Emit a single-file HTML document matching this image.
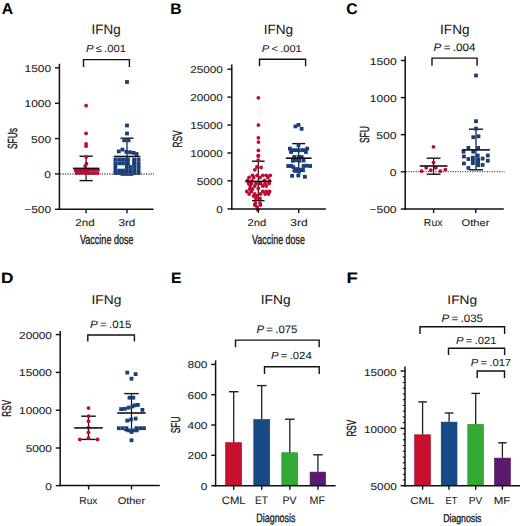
<!DOCTYPE html>
<html><head><meta charset="utf-8"><style>
html,body{margin:0;padding:0;background:#fff;}
svg{display:block;font-family:"Liberation Sans",sans-serif;text-rendering:geometricPrecision;}
</style></head><body>
<svg width="520" height="526" viewBox="0 0 520 526">
<rect width="520" height="526" fill="#fff"/>
<rect x="225.6" y="442.7" width="16" height="42.3" fill="#c8102e" stroke="#9e0a22" stroke-width="0.6"/>
<rect x="253.8" y="419.5" width="15.9" height="65.5" fill="#1a4a86" stroke="#123a6c" stroke-width="0.6"/>
<rect x="281.8" y="452.7" width="15.9" height="32.3" fill="#33aa33" stroke="#268a26" stroke-width="0.6"/>
<rect x="310.1" y="472.1" width="15.5" height="12.9" fill="#5c1a6e" stroke="#46104f" stroke-width="0.6"/>
<rect x="414.6" y="434.8" width="15.9" height="50.2" fill="#c8102e" stroke="#9e0a22" stroke-width="0.6"/>
<rect x="441.2" y="422.1" width="15.8" height="62.9" fill="#1a4a86" stroke="#123a6c" stroke-width="0.6"/>
<rect x="467.8" y="424.4" width="15.7" height="60.6" fill="#33aa33" stroke="#268a26" stroke-width="0.6"/>
<rect x="494.5" y="458.1" width="15.9" height="26.9" fill="#5c1a6e" stroke="#46104f" stroke-width="0.6"/>
<line x1="86.1" y1="156.2" x2="86.1" y2="180.6" stroke="#111" stroke-width="1.2"/>
<line x1="79.5" y1="156.2" x2="92.7" y2="156.2" stroke="#111" stroke-width="1.4"/>
<line x1="79.5" y1="180.6" x2="92.7" y2="180.6" stroke="#111" stroke-width="1.4"/>
<line x1="127" y1="138.2" x2="127" y2="175" stroke="#111" stroke-width="1.2"/>
<line x1="120.5" y1="138.2" x2="133.5" y2="138.2" stroke="#111" stroke-width="1.4"/>
<line x1="120.5" y1="175" x2="133.5" y2="175" stroke="#111" stroke-width="1.4"/>
<line x1="258.3" y1="161.2" x2="258.3" y2="200.6" stroke="#111" stroke-width="1.2"/>
<line x1="252" y1="161.2" x2="264.6" y2="161.2" stroke="#111" stroke-width="1.4"/>
<line x1="252" y1="200.6" x2="264.6" y2="200.6" stroke="#111" stroke-width="1.4"/>
<line x1="298.7" y1="143.6" x2="298.7" y2="171" stroke="#111" stroke-width="1.2"/>
<line x1="292.2" y1="143.6" x2="305.2" y2="143.6" stroke="#111" stroke-width="1.4"/>
<line x1="292.2" y1="171" x2="305.2" y2="171" stroke="#111" stroke-width="1.4"/>
<line x1="433.6" y1="158.2" x2="433.6" y2="174.2" stroke="#111" stroke-width="1.2"/>
<line x1="426.7" y1="158.2" x2="440.5" y2="158.2" stroke="#111" stroke-width="1.4"/>
<line x1="426.7" y1="174.2" x2="440.5" y2="174.2" stroke="#111" stroke-width="1.4"/>
<line x1="476" y1="129.2" x2="476" y2="169.8" stroke="#111" stroke-width="1.2"/>
<line x1="469" y1="129.2" x2="483" y2="129.2" stroke="#111" stroke-width="1.4"/>
<line x1="469" y1="169.8" x2="483" y2="169.8" stroke="#111" stroke-width="1.4"/>
<line x1="88.5" y1="416.2" x2="88.5" y2="439.4" stroke="#111" stroke-width="1.2"/>
<line x1="81.2" y1="416.2" x2="95.8" y2="416.2" stroke="#111" stroke-width="1.4"/>
<line x1="81.2" y1="439.4" x2="95.8" y2="439.4" stroke="#111" stroke-width="1.4"/>
<line x1="131.5" y1="393.6" x2="131.5" y2="430.6" stroke="#111" stroke-width="1.2"/>
<line x1="124.3" y1="393.6" x2="138.7" y2="393.6" stroke="#111" stroke-width="1.4"/>
<line x1="124.3" y1="430.6" x2="138.7" y2="430.6" stroke="#111" stroke-width="1.4"/>
<circle cx="86.1" cy="105.7" r="1.9" fill="#c00a34"/>
<circle cx="86.1" cy="133.4" r="1.9" fill="#c00a34"/>
<circle cx="86.1" cy="143.8" r="1.9" fill="#c00a34"/>
<circle cx="86.1" cy="146.2" r="1.9" fill="#c00a34"/>
<circle cx="86.2" cy="157" r="1.9" fill="#c00a34"/>
<circle cx="86.5" cy="163.7" r="1.9" fill="#c00a34"/>
<circle cx="85.1" cy="166.1" r="1.9" fill="#c00a34"/>
<circle cx="75.6" cy="170.5" r="1.9" fill="#c00a34"/>
<circle cx="76.6" cy="173" r="1.9" fill="#c00a34"/>
<circle cx="78.4" cy="170.5" r="1.9" fill="#c00a34"/>
<circle cx="79.4" cy="173" r="1.9" fill="#c00a34"/>
<circle cx="81.2" cy="170.5" r="1.9" fill="#c00a34"/>
<circle cx="82.2" cy="173" r="1.9" fill="#c00a34"/>
<circle cx="84" cy="170.5" r="1.9" fill="#c00a34"/>
<circle cx="85" cy="173" r="1.9" fill="#c00a34"/>
<circle cx="86.8" cy="170.5" r="1.9" fill="#c00a34"/>
<circle cx="87.8" cy="173" r="1.9" fill="#c00a34"/>
<circle cx="89.6" cy="169.9" r="1.9" fill="#c00a34"/>
<circle cx="89" cy="173.2" r="1.9" fill="#c00a34"/>
<circle cx="92.4" cy="169.9" r="1.9" fill="#c00a34"/>
<circle cx="91.8" cy="173.2" r="1.9" fill="#c00a34"/>
<circle cx="95.2" cy="169.9" r="1.9" fill="#c00a34"/>
<circle cx="94.6" cy="173.2" r="1.9" fill="#c00a34"/>
<circle cx="98" cy="169.9" r="1.9" fill="#c00a34"/>
<circle cx="97.4" cy="173.2" r="1.9" fill="#c00a34"/>
<rect x="125.1" y="80.1" width="3.8" height="3.8" fill="#173f78"/>
<rect x="125.1" y="123.6" width="3.8" height="3.8" fill="#173f78"/>
<rect x="125.1" y="131.6" width="3.8" height="3.8" fill="#173f78"/>
<rect x="122.3" y="138.4" width="3.8" height="3.8" fill="#173f78"/>
<rect x="126.6" y="138.4" width="3.8" height="3.8" fill="#173f78"/>
<rect x="116.9" y="149.5" width="3.8" height="3.8" fill="#173f78"/>
<rect x="120.5" y="147.7" width="3.8" height="3.8" fill="#173f78"/>
<rect x="124.4" y="149.9" width="3.8" height="3.8" fill="#173f78"/>
<rect x="128.1" y="150.4" width="3.8" height="3.8" fill="#173f78"/>
<rect x="131.7" y="150.9" width="3.8" height="3.8" fill="#173f78"/>
<rect x="134.7" y="152.1" width="3.8" height="3.8" fill="#173f78"/>
<rect x="113.5" y="157.8" width="3.8" height="3.8" fill="#173f78"/>
<rect x="117.3" y="157.8" width="3.8" height="3.8" fill="#173f78"/>
<rect x="121.1" y="157.8" width="3.8" height="3.8" fill="#173f78"/>
<rect x="124.9" y="157.8" width="3.8" height="3.8" fill="#173f78"/>
<rect x="132.5" y="157.8" width="3.8" height="3.8" fill="#173f78"/>
<rect x="136.7" y="157.8" width="3.8" height="3.8" fill="#173f78"/>
<rect x="113.5" y="161.5" width="3.8" height="3.8" fill="#173f78"/>
<rect x="117.3" y="161.5" width="3.8" height="3.8" fill="#173f78"/>
<rect x="121.1" y="161.5" width="3.8" height="3.8" fill="#173f78"/>
<rect x="124.9" y="161.5" width="3.8" height="3.8" fill="#173f78"/>
<rect x="132.5" y="161.5" width="3.8" height="3.8" fill="#173f78"/>
<rect x="136.7" y="161.5" width="3.8" height="3.8" fill="#173f78"/>
<rect x="113.5" y="165.1" width="3.8" height="3.8" fill="#173f78"/>
<rect x="124.9" y="165.1" width="3.8" height="3.8" fill="#173f78"/>
<rect x="128.7" y="165.1" width="3.8" height="3.8" fill="#173f78"/>
<rect x="132.5" y="165.1" width="3.8" height="3.8" fill="#173f78"/>
<rect x="136.7" y="165.1" width="3.8" height="3.8" fill="#173f78"/>
<rect x="113.5" y="168.7" width="3.8" height="3.8" fill="#173f78"/>
<rect x="117.3" y="168.7" width="3.8" height="3.8" fill="#173f78"/>
<rect x="121.1" y="168.7" width="3.8" height="3.8" fill="#173f78"/>
<rect x="124.9" y="168.7" width="3.8" height="3.8" fill="#173f78"/>
<rect x="128.7" y="168.7" width="3.8" height="3.8" fill="#173f78"/>
<rect x="132.5" y="168.7" width="3.8" height="3.8" fill="#173f78"/>
<rect x="136.7" y="168.7" width="3.8" height="3.8" fill="#173f78"/>
<rect x="113.5" y="171.2" width="3.8" height="3.8" fill="#173f78"/>
<rect x="117.3" y="171.2" width="3.8" height="3.8" fill="#173f78"/>
<rect x="121.1" y="171.2" width="3.8" height="3.8" fill="#173f78"/>
<rect x="124.9" y="171.2" width="3.8" height="3.8" fill="#173f78"/>
<rect x="128.7" y="171.2" width="3.8" height="3.8" fill="#173f78"/>
<rect x="132.5" y="171.2" width="3.8" height="3.8" fill="#173f78"/>
<rect x="136.7" y="171.2" width="3.8" height="3.8" fill="#173f78"/>
<rect x="132.3" y="158.1" width="3.8" height="3.8" fill="#173f78"/>
<rect x="126.1" y="157.8" width="3.8" height="3.8" fill="#173f78"/>
<rect x="126.1" y="161.5" width="3.8" height="3.8" fill="#173f78"/>
<rect x="132.3" y="161.5" width="3.8" height="3.8" fill="#173f78"/>
<circle cx="258.4" cy="97.8" r="1.9" fill="#c00a34"/>
<circle cx="258.4" cy="125.1" r="1.9" fill="#c00a34"/>
<circle cx="258.4" cy="137.8" r="1.9" fill="#c00a34"/>
<circle cx="258.4" cy="142.1" r="1.9" fill="#c00a34"/>
<circle cx="258.4" cy="150.4" r="1.9" fill="#c00a34"/>
<circle cx="258.4" cy="155.6" r="1.9" fill="#c00a34"/>
<circle cx="258.2" cy="156.1" r="1.9" fill="#c00a34"/>
<circle cx="258.2" cy="160.1" r="1.9" fill="#c00a34"/>
<circle cx="256.9" cy="167" r="1.9" fill="#c00a34"/>
<circle cx="261.1" cy="167.5" r="1.9" fill="#c00a34"/>
<circle cx="254.8" cy="169.8" r="1.9" fill="#c00a34"/>
<circle cx="252.5" cy="175.3" r="1.9" fill="#c00a34"/>
<circle cx="257.1" cy="175.3" r="1.9" fill="#c00a34"/>
<circle cx="262.8" cy="175.3" r="1.9" fill="#c00a34"/>
<circle cx="266.2" cy="175.3" r="1.9" fill="#c00a34"/>
<circle cx="270.2" cy="175.3" r="1.9" fill="#c00a34"/>
<circle cx="249.1" cy="177.5" r="1.9" fill="#c00a34"/>
<circle cx="253.7" cy="177.5" r="1.9" fill="#c00a34"/>
<circle cx="260" cy="177.5" r="1.9" fill="#c00a34"/>
<circle cx="267.9" cy="177.5" r="1.9" fill="#c00a34"/>
<circle cx="247.5" cy="180.5" r="1.9" fill="#c00a34"/>
<circle cx="252" cy="181" r="1.9" fill="#c00a34"/>
<circle cx="264.5" cy="180.5" r="1.9" fill="#c00a34"/>
<circle cx="269.5" cy="181" r="1.9" fill="#c00a34"/>
<circle cx="248.6" cy="183.5" r="1.9" fill="#c00a34"/>
<circle cx="251.4" cy="183.5" r="1.9" fill="#c00a34"/>
<circle cx="256" cy="183.5" r="1.9" fill="#c00a34"/>
<circle cx="260.5" cy="183.5" r="1.9" fill="#c00a34"/>
<circle cx="265.1" cy="183.5" r="1.9" fill="#c00a34"/>
<circle cx="269.1" cy="183.5" r="1.9" fill="#c00a34"/>
<circle cx="250.3" cy="186" r="1.9" fill="#c00a34"/>
<circle cx="254.8" cy="186" r="1.9" fill="#c00a34"/>
<circle cx="262.8" cy="186" r="1.9" fill="#c00a34"/>
<circle cx="266.2" cy="186" r="1.9" fill="#c00a34"/>
<circle cx="249.7" cy="189" r="1.9" fill="#c00a34"/>
<circle cx="252.5" cy="189" r="1.9" fill="#c00a34"/>
<circle cx="258.4" cy="188.5" r="1.9" fill="#c00a34"/>
<circle cx="246.8" cy="191.5" r="1.9" fill="#c00a34"/>
<circle cx="251.4" cy="191.5" r="1.9" fill="#c00a34"/>
<circle cx="262.8" cy="191.5" r="1.9" fill="#c00a34"/>
<circle cx="266.2" cy="191.5" r="1.9" fill="#c00a34"/>
<circle cx="269.6" cy="191.5" r="1.9" fill="#c00a34"/>
<circle cx="249.1" cy="194" r="1.9" fill="#c00a34"/>
<circle cx="254.8" cy="194" r="1.9" fill="#c00a34"/>
<circle cx="260.5" cy="194" r="1.9" fill="#c00a34"/>
<circle cx="265.1" cy="194" r="1.9" fill="#c00a34"/>
<circle cx="268.5" cy="194" r="1.9" fill="#c00a34"/>
<circle cx="253.7" cy="196" r="1.9" fill="#c00a34"/>
<circle cx="257.1" cy="196" r="1.9" fill="#c00a34"/>
<circle cx="256" cy="198.5" r="1.9" fill="#c00a34"/>
<circle cx="260" cy="198.5" r="1.9" fill="#c00a34"/>
<circle cx="255.4" cy="203" r="1.9" fill="#c00a34"/>
<circle cx="260" cy="203" r="1.9" fill="#c00a34"/>
<circle cx="254.8" cy="205" r="1.9" fill="#c00a34"/>
<circle cx="260.5" cy="205" r="1.9" fill="#c00a34"/>
<circle cx="257.1" cy="206.9" r="1.9" fill="#c00a34"/>
<circle cx="257.7" cy="209.7" r="1.9" fill="#c00a34"/>
<rect x="293.5" y="124.5" width="3.8" height="3.8" fill="#173f78"/>
<rect x="296.6" y="123" width="3.8" height="3.8" fill="#173f78"/>
<rect x="299.7" y="126.9" width="3.8" height="3.8" fill="#173f78"/>
<rect x="296.6" y="143.3" width="3.8" height="3.8" fill="#173f78"/>
<rect x="288" y="146.7" width="3.8" height="3.8" fill="#173f78"/>
<rect x="305.3" y="146.7" width="3.8" height="3.8" fill="#173f78"/>
<rect x="290.4" y="148.3" width="3.8" height="3.8" fill="#173f78"/>
<rect x="293.5" y="148.3" width="3.8" height="3.8" fill="#173f78"/>
<rect x="296.6" y="148.3" width="3.8" height="3.8" fill="#173f78"/>
<rect x="300.3" y="148.3" width="3.8" height="3.8" fill="#173f78"/>
<rect x="303.4" y="148.3" width="3.8" height="3.8" fill="#173f78"/>
<rect x="289.2" y="150.1" width="3.8" height="3.8" fill="#173f78"/>
<rect x="304" y="150.1" width="3.8" height="3.8" fill="#173f78"/>
<rect x="292.3" y="155.1" width="3.8" height="3.8" fill="#173f78"/>
<rect x="296.6" y="155.1" width="3.8" height="3.8" fill="#173f78"/>
<rect x="299.7" y="155.1" width="3.8" height="3.8" fill="#173f78"/>
<rect x="290.9" y="158.9" width="3.8" height="3.8" fill="#173f78"/>
<rect x="294.1" y="158.2" width="3.8" height="3.8" fill="#173f78"/>
<rect x="297.4" y="158.9" width="3.8" height="3.8" fill="#173f78"/>
<rect x="301.7" y="158.6" width="3.8" height="3.8" fill="#173f78"/>
<rect x="286.3" y="164.1" width="3.8" height="3.8" fill="#173f78"/>
<rect x="289.6" y="164.1" width="3.8" height="3.8" fill="#173f78"/>
<rect x="291.5" y="165.4" width="3.8" height="3.8" fill="#173f78"/>
<rect x="301.7" y="164.1" width="3.8" height="3.8" fill="#173f78"/>
<rect x="304.9" y="163.8" width="3.8" height="3.8" fill="#173f78"/>
<rect x="308.2" y="164.1" width="3.8" height="3.8" fill="#173f78"/>
<rect x="295.1" y="167.1" width="3.8" height="3.8" fill="#173f78"/>
<rect x="297.7" y="167.7" width="3.8" height="3.8" fill="#173f78"/>
<rect x="301" y="168" width="3.8" height="3.8" fill="#173f78"/>
<rect x="293.2" y="169" width="3.8" height="3.8" fill="#173f78"/>
<rect x="297.1" y="169.7" width="3.8" height="3.8" fill="#173f78"/>
<rect x="290.2" y="173.9" width="3.8" height="3.8" fill="#173f78"/>
<rect x="296.4" y="173.6" width="3.8" height="3.8" fill="#173f78"/>
<rect x="303" y="174.9" width="3.8" height="3.8" fill="#173f78"/>
<circle cx="433.5" cy="146.8" r="1.9" fill="#c00a34"/>
<circle cx="433.5" cy="162.5" r="1.9" fill="#c00a34"/>
<circle cx="426.2" cy="167.8" r="1.9" fill="#c00a34"/>
<circle cx="435.8" cy="167.8" r="1.9" fill="#c00a34"/>
<circle cx="421.5" cy="171.2" r="1.9" fill="#c00a34"/>
<circle cx="430.8" cy="170.2" r="1.9" fill="#c00a34"/>
<circle cx="440.4" cy="171.2" r="1.9" fill="#c00a34"/>
<circle cx="445.4" cy="169.6" r="1.9" fill="#c00a34"/>
<rect x="474.1" y="73.6" width="3.8" height="3.8" fill="#173f78"/>
<rect x="474.1" y="119.3" width="3.8" height="3.8" fill="#173f78"/>
<rect x="474.1" y="126.7" width="3.8" height="3.8" fill="#173f78"/>
<rect x="471.4" y="135.3" width="3.8" height="3.8" fill="#173f78"/>
<rect x="476.6" y="134.4" width="3.8" height="3.8" fill="#173f78"/>
<rect x="466.5" y="146" width="3.8" height="3.8" fill="#173f78"/>
<rect x="476.2" y="146" width="3.8" height="3.8" fill="#173f78"/>
<rect x="461.6" y="149.8" width="3.8" height="3.8" fill="#173f78"/>
<rect x="471.3" y="149.8" width="3.8" height="3.8" fill="#173f78"/>
<rect x="462" y="154.6" width="3.8" height="3.8" fill="#173f78"/>
<rect x="475.8" y="153.6" width="3.8" height="3.8" fill="#173f78"/>
<rect x="485.9" y="153.6" width="3.8" height="3.8" fill="#173f78"/>
<rect x="466.5" y="157.1" width="3.8" height="3.8" fill="#173f78"/>
<rect x="471" y="155.7" width="3.8" height="3.8" fill="#173f78"/>
<rect x="471" y="158.1" width="3.8" height="3.8" fill="#173f78"/>
<rect x="476.2" y="157.4" width="3.8" height="3.8" fill="#173f78"/>
<rect x="480.7" y="156.7" width="3.8" height="3.8" fill="#173f78"/>
<rect x="485.9" y="158.8" width="3.8" height="3.8" fill="#173f78"/>
<rect x="462" y="161.6" width="3.8" height="3.8" fill="#173f78"/>
<rect x="471" y="161.2" width="3.8" height="3.8" fill="#173f78"/>
<rect x="476.2" y="160.9" width="3.8" height="3.8" fill="#173f78"/>
<rect x="476.2" y="163.3" width="3.8" height="3.8" fill="#173f78"/>
<rect x="480.7" y="163" width="3.8" height="3.8" fill="#173f78"/>
<rect x="466.5" y="166.1" width="3.8" height="3.8" fill="#173f78"/>
<circle cx="88.5" cy="408.1" r="1.9" fill="#c00a34"/>
<circle cx="88.5" cy="416.2" r="1.9" fill="#c00a34"/>
<circle cx="88.5" cy="421.2" r="1.9" fill="#c00a34"/>
<circle cx="88.5" cy="427.7" r="1.9" fill="#c00a34"/>
<circle cx="88.5" cy="432.5" r="1.9" fill="#c00a34"/>
<circle cx="88.5" cy="437.9" r="1.9" fill="#c00a34"/>
<circle cx="79.8" cy="439.4" r="1.9" fill="#c00a34"/>
<circle cx="97.5" cy="439.4" r="1.9" fill="#c00a34"/>
<rect x="125.3" y="370.7" width="3.8" height="3.8" fill="#173f78"/>
<rect x="133.7" y="372.2" width="3.8" height="3.8" fill="#173f78"/>
<rect x="129.6" y="376.8" width="3.8" height="3.8" fill="#173f78"/>
<rect x="127.6" y="395.8" width="3.8" height="3.8" fill="#173f78"/>
<rect x="131.4" y="395.8" width="3.8" height="3.8" fill="#173f78"/>
<rect x="132.9" y="403.4" width="3.8" height="3.8" fill="#173f78"/>
<rect x="136" y="403" width="3.8" height="3.8" fill="#173f78"/>
<rect x="119.2" y="407.2" width="3.8" height="3.8" fill="#173f78"/>
<rect x="123" y="406.9" width="3.8" height="3.8" fill="#173f78"/>
<rect x="126.8" y="405.7" width="3.8" height="3.8" fill="#173f78"/>
<rect x="130.6" y="404.5" width="3.8" height="3.8" fill="#173f78"/>
<rect x="140.5" y="408" width="3.8" height="3.8" fill="#173f78"/>
<rect x="125.3" y="418.7" width="3.8" height="3.8" fill="#173f78"/>
<rect x="129.1" y="417.6" width="3.8" height="3.8" fill="#173f78"/>
<rect x="133.7" y="416.7" width="3.8" height="3.8" fill="#173f78"/>
<rect x="116.9" y="426.3" width="3.8" height="3.8" fill="#173f78"/>
<rect x="120.8" y="426.3" width="3.8" height="3.8" fill="#173f78"/>
<rect x="124.6" y="426.3" width="3.8" height="3.8" fill="#173f78"/>
<rect x="134.5" y="426.3" width="3.8" height="3.8" fill="#173f78"/>
<rect x="138.3" y="426.3" width="3.8" height="3.8" fill="#173f78"/>
<rect x="142.1" y="426.3" width="3.8" height="3.8" fill="#173f78"/>
<rect x="126.8" y="428.5" width="3.8" height="3.8" fill="#173f78"/>
<rect x="130.6" y="428.5" width="3.8" height="3.8" fill="#173f78"/>
<rect x="134.5" y="428.5" width="3.8" height="3.8" fill="#173f78"/>
<rect x="129.6" y="430.1" width="3.8" height="3.8" fill="#173f78"/>
<rect x="129.6" y="438.4" width="3.8" height="3.8" fill="#173f78"/>
<line x1="59.4" y1="63.7" x2="59.4" y2="210.05" stroke="#111" stroke-width="1.5" />
<line x1="58.65" y1="209.3" x2="153.6" y2="209.3" stroke="#111" stroke-width="1.5" />
<line x1="55" y1="67.9" x2="59.4" y2="67.9" stroke="#111" stroke-width="1.4" />
<line x1="55" y1="103.25" x2="59.4" y2="103.25" stroke="#111" stroke-width="1.4" />
<line x1="55" y1="138.6" x2="59.4" y2="138.6" stroke="#111" stroke-width="1.4" />
<line x1="55" y1="173.95" x2="59.4" y2="173.95" stroke="#111" stroke-width="1.4" />
<line x1="55" y1="209.3" x2="59.4" y2="209.3" stroke="#111" stroke-width="1.4" />
<line x1="86.1" y1="209.3" x2="86.1" y2="213.3" stroke="#111" stroke-width="1.4" />
<line x1="127" y1="209.3" x2="127" y2="213.3" stroke="#111" stroke-width="1.4" />
<line x1="60.2" y1="174" x2="154" y2="174" stroke="#4a4a4a" stroke-width="1.3" stroke-dasharray="1.1 1.35"/>
<path d="M83.5 67V59.6H129.4V67" fill="none" stroke="#111" stroke-width="1.4"/>
<line x1="231.8" y1="64.6" x2="231.8" y2="209.65" stroke="#111" stroke-width="1.5" />
<line x1="231.05" y1="208.9" x2="326" y2="208.9" stroke="#111" stroke-width="1.5" />
<line x1="227.4" y1="69.2" x2="231.8" y2="69.2" stroke="#111" stroke-width="1.4" />
<line x1="227.4" y1="97.12" x2="231.8" y2="97.12" stroke="#111" stroke-width="1.4" />
<line x1="227.4" y1="125.04" x2="231.8" y2="125.04" stroke="#111" stroke-width="1.4" />
<line x1="227.4" y1="152.96" x2="231.8" y2="152.96" stroke="#111" stroke-width="1.4" />
<line x1="227.4" y1="180.88" x2="231.8" y2="180.88" stroke="#111" stroke-width="1.4" />
<line x1="227.4" y1="208.9" x2="231.8" y2="208.9" stroke="#111" stroke-width="1.4" />
<line x1="258.4" y1="208.9" x2="258.4" y2="212.9" stroke="#111" stroke-width="1.4" />
<line x1="298.7" y1="208.9" x2="298.7" y2="212.9" stroke="#111" stroke-width="1.4" />
<path d="M259.5 66.3V59.2H305.6V66.3" fill="none" stroke="#111" stroke-width="1.4"/>
<line x1="405.2" y1="56.3" x2="405.2" y2="209.75" stroke="#111" stroke-width="1.5" />
<line x1="404.45" y1="209" x2="503.8" y2="209" stroke="#111" stroke-width="1.5" />
<line x1="400.8" y1="60.5" x2="405.2" y2="60.5" stroke="#111" stroke-width="1.4" />
<line x1="400.8" y1="97.6" x2="405.2" y2="97.6" stroke="#111" stroke-width="1.4" />
<line x1="400.8" y1="134.7" x2="405.2" y2="134.7" stroke="#111" stroke-width="1.4" />
<line x1="400.8" y1="171.8" x2="405.2" y2="171.8" stroke="#111" stroke-width="1.4" />
<line x1="400.8" y1="209" x2="405.2" y2="209" stroke="#111" stroke-width="1.4" />
<line x1="433.6" y1="209" x2="433.6" y2="213" stroke="#111" stroke-width="1.4" />
<line x1="475.8" y1="209" x2="475.8" y2="213" stroke="#111" stroke-width="1.4" />
<line x1="406" y1="171.7" x2="504.5" y2="171.7" stroke="#4a4a4a" stroke-width="1.3" stroke-dasharray="1.1 1.35"/>
<path d="M432 65.8V58.1H477.1V65.8" fill="none" stroke="#111" stroke-width="1.4"/>
<line x1="60.2" y1="331" x2="60.2" y2="486.35" stroke="#111" stroke-width="1.5" />
<line x1="59.45" y1="485.6" x2="159.8" y2="485.6" stroke="#111" stroke-width="1.5" />
<line x1="55.8" y1="334.6" x2="60.2" y2="334.6" stroke="#111" stroke-width="1.4" />
<line x1="55.8" y1="372.4" x2="60.2" y2="372.4" stroke="#111" stroke-width="1.4" />
<line x1="55.8" y1="410.2" x2="60.2" y2="410.2" stroke="#111" stroke-width="1.4" />
<line x1="55.8" y1="448" x2="60.2" y2="448" stroke="#111" stroke-width="1.4" />
<line x1="55.8" y1="485.6" x2="60.2" y2="485.6" stroke="#111" stroke-width="1.4" />
<line x1="88.6" y1="485.6" x2="88.6" y2="489.6" stroke="#111" stroke-width="1.4" />
<line x1="131.5" y1="485.6" x2="131.5" y2="489.6" stroke="#111" stroke-width="1.4" />
<path d="M87.8 341.5V335H134.4V341.5" fill="none" stroke="#111" stroke-width="1.4"/>
<line x1="215.6" y1="360.4" x2="215.6" y2="486.45" stroke="#111" stroke-width="1.5" />
<line x1="214.85" y1="485.7" x2="335.6" y2="485.7" stroke="#111" stroke-width="1.5" />
<line x1="211.2" y1="364.4" x2="215.6" y2="364.4" stroke="#111" stroke-width="1.4" />
<line x1="211.2" y1="394.7" x2="215.6" y2="394.7" stroke="#111" stroke-width="1.4" />
<line x1="211.2" y1="425" x2="215.6" y2="425" stroke="#111" stroke-width="1.4" />
<line x1="211.2" y1="455.3" x2="215.6" y2="455.3" stroke="#111" stroke-width="1.4" />
<line x1="211.2" y1="485.7" x2="215.6" y2="485.7" stroke="#111" stroke-width="1.4" />
<line x1="233.7" y1="485.7" x2="233.7" y2="489.7" stroke="#111" stroke-width="1.4" />
<line x1="261.7" y1="485.7" x2="261.7" y2="489.7" stroke="#111" stroke-width="1.4" />
<line x1="289.8" y1="485.7" x2="289.8" y2="489.7" stroke="#111" stroke-width="1.4" />
<line x1="317.9" y1="485.7" x2="317.9" y2="489.7" stroke="#111" stroke-width="1.4" />
<path d="M235.5 347.3V340.1H319.2V347.3" fill="none" stroke="#111" stroke-width="1.4"/>
<path d="M264.5 374.1V366.8H319.2V374.1" fill="none" stroke="#111" stroke-width="1.4"/>
<line x1="405" y1="366.5" x2="405" y2="486.45" stroke="#111" stroke-width="1.5" />
<line x1="404.25" y1="485.7" x2="520.5" y2="485.7" stroke="#111" stroke-width="1.5" />
<line x1="400.6" y1="371" x2="405" y2="371" stroke="#111" stroke-width="1.4" />
<line x1="400.6" y1="428.35" x2="405" y2="428.35" stroke="#111" stroke-width="1.4" />
<line x1="400.6" y1="485.7" x2="405" y2="485.7" stroke="#111" stroke-width="1.4" />
<line x1="422.6" y1="485.7" x2="422.6" y2="489.7" stroke="#111" stroke-width="1.4" />
<line x1="449" y1="485.7" x2="449" y2="489.7" stroke="#111" stroke-width="1.4" />
<line x1="475.7" y1="485.7" x2="475.7" y2="489.7" stroke="#111" stroke-width="1.4" />
<line x1="502.4" y1="485.7" x2="502.4" y2="489.7" stroke="#111" stroke-width="1.4" />
<line x1="402.8" y1="376.74" x2="405" y2="376.74" stroke="#111" stroke-width="1.1" />
<line x1="402.8" y1="382.47" x2="405" y2="382.47" stroke="#111" stroke-width="1.1" />
<line x1="402.8" y1="388.2" x2="405" y2="388.2" stroke="#111" stroke-width="1.1" />
<line x1="402.8" y1="393.94" x2="405" y2="393.94" stroke="#111" stroke-width="1.1" />
<line x1="402.8" y1="399.68" x2="405" y2="399.68" stroke="#111" stroke-width="1.1" />
<line x1="402.8" y1="405.41" x2="405" y2="405.41" stroke="#111" stroke-width="1.1" />
<line x1="402.8" y1="411.14" x2="405" y2="411.14" stroke="#111" stroke-width="1.1" />
<line x1="402.8" y1="416.88" x2="405" y2="416.88" stroke="#111" stroke-width="1.1" />
<line x1="402.8" y1="422.62" x2="405" y2="422.62" stroke="#111" stroke-width="1.1" />
<line x1="402.8" y1="434.08" x2="405" y2="434.08" stroke="#111" stroke-width="1.1" />
<line x1="402.8" y1="439.82" x2="405" y2="439.82" stroke="#111" stroke-width="1.1" />
<line x1="402.8" y1="445.56" x2="405" y2="445.56" stroke="#111" stroke-width="1.1" />
<line x1="402.8" y1="451.29" x2="405" y2="451.29" stroke="#111" stroke-width="1.1" />
<line x1="402.8" y1="457.02" x2="405" y2="457.02" stroke="#111" stroke-width="1.1" />
<line x1="402.8" y1="462.76" x2="405" y2="462.76" stroke="#111" stroke-width="1.1" />
<line x1="402.8" y1="468.5" x2="405" y2="468.5" stroke="#111" stroke-width="1.1" />
<line x1="402.8" y1="474.23" x2="405" y2="474.23" stroke="#111" stroke-width="1.1" />
<line x1="402.8" y1="479.97" x2="405" y2="479.97" stroke="#111" stroke-width="1.1" />
<path d="M420 333.9V326.7H504.6V333.9" fill="none" stroke="#111" stroke-width="1.4"/>
<path d="M448.5 355V348.3H504.6V355" fill="none" stroke="#111" stroke-width="1.4"/>
<path d="M477.2 377.9V371H504.5V377.9" fill="none" stroke="#111" stroke-width="1.4"/>
<line x1="233.7" y1="391.7" x2="233.7" y2="442.4" stroke="#222" stroke-width="1.3" />
<line x1="228.9" y1="391.7" x2="238.5" y2="391.7" stroke="#222" stroke-width="1.4" />
<line x1="261.7" y1="385.6" x2="261.7" y2="419.2" stroke="#222" stroke-width="1.3" />
<line x1="256.9" y1="385.6" x2="266.5" y2="385.6" stroke="#222" stroke-width="1.4" />
<line x1="289.8" y1="419.2" x2="289.8" y2="452.4" stroke="#222" stroke-width="1.3" />
<line x1="285" y1="419.2" x2="294.6" y2="419.2" stroke="#222" stroke-width="1.4" />
<line x1="317.9" y1="454.8" x2="317.9" y2="471.8" stroke="#222" stroke-width="1.3" />
<line x1="313.1" y1="454.8" x2="322.7" y2="454.8" stroke="#222" stroke-width="1.4" />
<line x1="422.6" y1="401.9" x2="422.6" y2="434.5" stroke="#222" stroke-width="1.3" />
<line x1="418.3" y1="401.9" x2="426.9" y2="401.9" stroke="#222" stroke-width="1.4" />
<line x1="449.1" y1="413" x2="449.1" y2="421.8" stroke="#222" stroke-width="1.3" />
<line x1="444.8" y1="413" x2="453.4" y2="413" stroke="#222" stroke-width="1.4" />
<line x1="475.7" y1="393.4" x2="475.7" y2="424.1" stroke="#222" stroke-width="1.3" />
<line x1="471.4" y1="393.4" x2="480" y2="393.4" stroke="#222" stroke-width="1.4" />
<line x1="502.4" y1="442.8" x2="502.4" y2="457.8" stroke="#222" stroke-width="1.3" />
<line x1="498.1" y1="442.8" x2="506.7" y2="442.8" stroke="#222" stroke-width="1.4" />
<line x1="72.9" y1="168.4" x2="99.3" y2="168.4" stroke="#111" stroke-width="1.6" />
<line x1="113.7" y1="156.5" x2="140.3" y2="156.5" stroke="#111" stroke-width="1.6" />
<line x1="245.2" y1="181.4" x2="271.4" y2="181.4" stroke="#111" stroke-width="1.6" />
<line x1="285.8" y1="158.2" x2="311.6" y2="158.2" stroke="#111" stroke-width="1.6" />
<line x1="419.7" y1="166" x2="447.5" y2="166" stroke="#111" stroke-width="1.6" />
<line x1="462.2" y1="149.9" x2="489.8" y2="149.9" stroke="#111" stroke-width="1.6" />
<line x1="74.2" y1="427.9" x2="102.8" y2="427.9" stroke="#111" stroke-width="1.6" />
<line x1="117.3" y1="413" x2="145.7" y2="413" stroke="#111" stroke-width="1.6" />
<text x="1.73" y="13.6" font-size="15.51" textLength="11.38" lengthAdjust="spacingAndGlyphs" style="font-weight:bold" fill="#000" stroke="#000" stroke-width="0.08">A</text>
<text x="170.2" y="13.6" font-size="15.36" textLength="11.37" lengthAdjust="spacingAndGlyphs" style="font-weight:bold" fill="#000" stroke="#000" stroke-width="0.08">B</text>
<text x="346.37" y="14" font-size="15.43" textLength="11.33" lengthAdjust="spacingAndGlyphs" style="font-weight:bold" fill="#000" stroke="#000" stroke-width="0.08">C</text>
<text x="1.1" y="283.3" font-size="14.78" textLength="12.43" lengthAdjust="spacingAndGlyphs" style="font-weight:bold" fill="#000" stroke="#000" stroke-width="0.08">D</text>
<text x="171.1" y="283.3" font-size="14.78" textLength="10.48" lengthAdjust="spacingAndGlyphs" style="font-weight:bold" fill="#000" stroke="#000" stroke-width="0.08">E</text>
<text x="346.61" y="283.3" font-size="15.36" textLength="11.24" lengthAdjust="spacingAndGlyphs" style="font-weight:bold" fill="#000" stroke="#000" stroke-width="0.08">F</text>
<text x="91.59" y="34.2" font-size="13.62" textLength="29.11" lengthAdjust="spacingAndGlyphs" style="" fill="#1a1a1a" stroke="#1a1a1a" stroke-width="0.08">IFNg</text>
<text x="263.67" y="34.1" font-size="13.33" textLength="29.54" lengthAdjust="spacingAndGlyphs" style="" fill="#1a1a1a" stroke="#1a1a1a" stroke-width="0.08">IFNg</text>
<text x="440.07" y="34.4" font-size="13.48" textLength="29.54" lengthAdjust="spacingAndGlyphs" style="" fill="#1a1a1a" stroke="#1a1a1a" stroke-width="0.08">IFNg</text>
<text x="91.46" y="303.5" font-size="12.61" textLength="29.86" lengthAdjust="spacingAndGlyphs" style="" fill="#1a1a1a" stroke="#1a1a1a" stroke-width="0.08">IFNg</text>
<text x="260.76" y="304" font-size="12.9" textLength="29.86" lengthAdjust="spacingAndGlyphs" style="" fill="#1a1a1a" stroke="#1a1a1a" stroke-width="0.08">IFNg</text>
<text x="447.36" y="304" font-size="12.46" textLength="29.76" lengthAdjust="spacingAndGlyphs" style="" fill="#1a1a1a" stroke="#1a1a1a" stroke-width="0.08">IFNg</text>
<text x="85.96" y="52.3" font-size="10.29" textLength="39.93" lengthAdjust="spacingAndGlyphs" style="" fill="#1a1a1a" stroke="#1a1a1a" stroke-width="0.08"><tspan style="font-style:italic">P</tspan> ≤ .001</text>
<text x="261.87" y="52.1" font-size="9.86" textLength="39.86" lengthAdjust="spacingAndGlyphs" style="" fill="#1a1a1a" stroke="#1a1a1a" stroke-width="0.08"><tspan style="font-style:italic">P</tspan> &lt; .001</text>
<text x="433.55" y="50.8" font-size="10.86" textLength="41.87" lengthAdjust="spacingAndGlyphs" style="" fill="#1a1a1a" stroke="#1a1a1a" stroke-width="0.08"><tspan style="font-style:italic">P</tspan> = .004</text>
<text x="90.06" y="327.6" font-size="10.57" textLength="41.28" lengthAdjust="spacingAndGlyphs" style="" fill="#1a1a1a" stroke="#1a1a1a" stroke-width="0.08"><tspan style="font-style:italic">P</tspan> = .015</text>
<text x="256.46" y="332.9" font-size="10.86" textLength="40.97" lengthAdjust="spacingAndGlyphs" style="" fill="#1a1a1a" stroke="#1a1a1a" stroke-width="0.08"><tspan style="font-style:italic">P</tspan> = .075</text>
<text x="270.96" y="358.5" font-size="10.29" textLength="40.75" lengthAdjust="spacingAndGlyphs" style="" fill="#1a1a1a" stroke="#1a1a1a" stroke-width="0.08"><tspan style="font-style:italic">P</tspan> = .024</text>
<text x="441.45" y="322.3" font-size="10.86" textLength="41.58" lengthAdjust="spacingAndGlyphs" style="" fill="#1a1a1a" stroke="#1a1a1a" stroke-width="0.08"><tspan style="font-style:italic">P</tspan> = .035</text>
<text x="455.96" y="344" font-size="10.29" textLength="40.48" lengthAdjust="spacingAndGlyphs" style="" fill="#1a1a1a" stroke="#1a1a1a" stroke-width="0.08"><tspan style="font-style:italic">P</tspan> = .021</text>
<text x="470.76" y="366.1" font-size="10.14" textLength="40.37" lengthAdjust="spacingAndGlyphs" style="" fill="#1a1a1a" stroke="#1a1a1a" stroke-width="0.08"><tspan style="font-style:italic">P</tspan> = .017</text>
<text x="75.22" y="225.7" font-size="10" textLength="19.38" lengthAdjust="spacingAndGlyphs" style="" fill="#1a1a1a" stroke="#1a1a1a" stroke-width="0.08">2nd</text>
<text x="118.43" y="225.7" font-size="10" textLength="16.93" lengthAdjust="spacingAndGlyphs" style="" fill="#1a1a1a" stroke="#1a1a1a" stroke-width="0.08">3rd</text>
<text x="247.44" y="225.7" font-size="10" textLength="18.73" lengthAdjust="spacingAndGlyphs" style="" fill="#1a1a1a" stroke="#1a1a1a" stroke-width="0.08">2nd</text>
<text x="290.32" y="225.7" font-size="10" textLength="17.37" lengthAdjust="spacingAndGlyphs" style="" fill="#1a1a1a" stroke="#1a1a1a" stroke-width="0.08">3rd</text>
<text x="423.87" y="225.9" font-size="10.14" textLength="18.53" lengthAdjust="spacingAndGlyphs" style="" fill="#1a1a1a" stroke="#1a1a1a" stroke-width="0.08">Rux</text>
<text x="461.64" y="225.9" font-size="9.72" textLength="27.79" lengthAdjust="spacingAndGlyphs" style="" fill="#1a1a1a" stroke="#1a1a1a" stroke-width="0.08">Other</text>
<text x="79.29" y="503.7" font-size="10" textLength="18.1" lengthAdjust="spacingAndGlyphs" style="" fill="#1a1a1a" stroke="#1a1a1a" stroke-width="0.08">Rux</text>
<text x="117.65" y="503.7" font-size="9.86" textLength="27.48" lengthAdjust="spacingAndGlyphs" style="" fill="#1a1a1a" stroke="#1a1a1a" stroke-width="0.08">Other</text>
<text x="221.84" y="504" font-size="10.86" textLength="23.82" lengthAdjust="spacingAndGlyphs" style="" fill="#1a1a1a" stroke="#1a1a1a" stroke-width="0.08">CML</text>
<text x="255.09" y="504" font-size="11.01" textLength="12.89" lengthAdjust="spacingAndGlyphs" style="" fill="#1a1a1a" stroke="#1a1a1a" stroke-width="0.08">ET</text>
<text x="282.56" y="504" font-size="11.01" textLength="14.09" lengthAdjust="spacingAndGlyphs" style="" fill="#1a1a1a" stroke="#1a1a1a" stroke-width="0.08">PV</text>
<text x="309.44" y="504" font-size="11.01" textLength="15.53" lengthAdjust="spacingAndGlyphs" style="" fill="#1a1a1a" stroke="#1a1a1a" stroke-width="0.08">MF</text>
<text x="410.33" y="503.7" font-size="10" textLength="24.13" lengthAdjust="spacingAndGlyphs" style="" fill="#1a1a1a" stroke="#1a1a1a" stroke-width="0.08">CML</text>
<text x="445.57" y="503.7" font-size="10.14" textLength="11.7" lengthAdjust="spacingAndGlyphs" style="" fill="#1a1a1a" stroke="#1a1a1a" stroke-width="0.08">ET</text>
<text x="468.79" y="503.7" font-size="10.14" textLength="13.45" lengthAdjust="spacingAndGlyphs" style="" fill="#1a1a1a" stroke="#1a1a1a" stroke-width="0.08">PV</text>
<text x="493.78" y="503.7" font-size="10.14" textLength="16.63" lengthAdjust="spacingAndGlyphs" style="" fill="#1a1a1a" stroke="#1a1a1a" stroke-width="0.08">MF</text>
<text x="80.01" y="244.1" font-size="13.06" textLength="53.44" lengthAdjust="spacingAndGlyphs" style="" fill="#1a1a1a" stroke="#1a1a1a" stroke-width="0.35">Vaccine dose</text>
<text x="252.01" y="244.1" font-size="13.06" textLength="52.93" lengthAdjust="spacingAndGlyphs" style="" fill="#1a1a1a" stroke="#1a1a1a" stroke-width="0.35">Vaccine dose</text>
<text x="256.29" y="521.9" font-size="12.08" textLength="39.18" lengthAdjust="spacingAndGlyphs" style="" fill="#1a1a1a" stroke="#1a1a1a" stroke-width="0.35">Diagnosis</text>
<text x="443.2" y="522" font-size="11.25" textLength="38.26" lengthAdjust="spacingAndGlyphs" style="" fill="#1a1a1a" stroke="#1a1a1a" stroke-width="0.35">Diagnosis</text>
<text transform="translate(16.5,148.6) rotate(-90)" x="-0.42" y="0" font-size="13.29" textLength="20.95" lengthAdjust="spacingAndGlyphs" style="" fill="#1a1a1a" stroke="#1a1a1a" stroke-width="0.35">SFUs</text>
<text transform="translate(182.4,146.9) rotate(-90)" x="-0.67" y="0" font-size="13.29" textLength="17.12" lengthAdjust="spacingAndGlyphs" style="" fill="#1a1a1a" stroke="#1a1a1a" stroke-width="0.35">RSV</text>
<text transform="translate(368.8,142.7) rotate(-90)" x="-0.42" y="0" font-size="13.14" textLength="16.9" lengthAdjust="spacingAndGlyphs" style="" fill="#1a1a1a" stroke="#1a1a1a" stroke-width="0.35">SFU</text>
<text transform="translate(11.2,416) rotate(-90)" x="-0.65" y="0" font-size="12.86" textLength="16.7" lengthAdjust="spacingAndGlyphs" style="" fill="#1a1a1a" stroke="#1a1a1a" stroke-width="0.35">RSV</text>
<text transform="translate(179.7,432.9) rotate(-90)" x="-0.42" y="0" font-size="12.86" textLength="16.9" lengthAdjust="spacingAndGlyphs" style="" fill="#1a1a1a" stroke="#1a1a1a" stroke-width="0.35">SFU</text>
<text transform="translate(355.7,435.9) rotate(-90)" x="-0.65" y="0" font-size="13.29" textLength="16.8" lengthAdjust="spacingAndGlyphs" style="" fill="#1a1a1a" stroke="#1a1a1a" stroke-width="0.35">RSV</text>
<text x="24.54" y="71.9" font-size="10" textLength="26.59" lengthAdjust="spacingAndGlyphs" style="" fill="#1a1a1a" stroke="#1a1a1a" stroke-width="0.08">1500</text>
<text x="24.54" y="107.25" font-size="10" textLength="26.59" lengthAdjust="spacingAndGlyphs" style="" fill="#1a1a1a" stroke="#1a1a1a" stroke-width="0.08">1000</text>
<text x="31.12" y="142.6" font-size="10" textLength="19.94" lengthAdjust="spacingAndGlyphs" style="" fill="#1a1a1a" stroke="#1a1a1a" stroke-width="0.08">500</text>
<text x="44.38" y="177.95" font-size="10" textLength="6.65" lengthAdjust="spacingAndGlyphs" style="" fill="#1a1a1a" stroke="#1a1a1a" stroke-width="0.08">0</text>
<text x="24.19" y="213.3" font-size="10" textLength="26.92" lengthAdjust="spacingAndGlyphs" style="" fill="#1a1a1a" stroke="#1a1a1a" stroke-width="0.08">−500</text>
<text x="190.21" y="73.2" font-size="10" textLength="32.56" lengthAdjust="spacingAndGlyphs" style="" fill="#1a1a1a" stroke="#1a1a1a" stroke-width="0.08">25000</text>
<text x="190.21" y="101.12" font-size="10" textLength="32.56" lengthAdjust="spacingAndGlyphs" style="" fill="#1a1a1a" stroke="#1a1a1a" stroke-width="0.08">20000</text>
<text x="190.21" y="129.04" font-size="10" textLength="32.56" lengthAdjust="spacingAndGlyphs" style="" fill="#1a1a1a" stroke="#1a1a1a" stroke-width="0.08">15000</text>
<text x="190.21" y="156.96" font-size="10" textLength="32.56" lengthAdjust="spacingAndGlyphs" style="" fill="#1a1a1a" stroke="#1a1a1a" stroke-width="0.08">10000</text>
<text x="196.77" y="184.88" font-size="10" textLength="26.05" lengthAdjust="spacingAndGlyphs" style="" fill="#1a1a1a" stroke="#1a1a1a" stroke-width="0.08">5000</text>
<text x="216.21" y="212.8" font-size="10" textLength="6.51" lengthAdjust="spacingAndGlyphs" style="" fill="#1a1a1a" stroke="#1a1a1a" stroke-width="0.08">0</text>
<text x="369.73" y="64.5" font-size="10" textLength="26.91" lengthAdjust="spacingAndGlyphs" style="" fill="#1a1a1a" stroke="#1a1a1a" stroke-width="0.08">1500</text>
<text x="369.73" y="101.6" font-size="10" textLength="26.91" lengthAdjust="spacingAndGlyphs" style="" fill="#1a1a1a" stroke="#1a1a1a" stroke-width="0.08">1000</text>
<text x="376.38" y="138.7" font-size="10" textLength="20.18" lengthAdjust="spacingAndGlyphs" style="" fill="#1a1a1a" stroke="#1a1a1a" stroke-width="0.08">500</text>
<text x="389.81" y="175.8" font-size="10" textLength="6.73" lengthAdjust="spacingAndGlyphs" style="" fill="#1a1a1a" stroke="#1a1a1a" stroke-width="0.08">0</text>
<text x="369.37" y="212.9" font-size="10" textLength="27.24" lengthAdjust="spacingAndGlyphs" style="" fill="#1a1a1a" stroke="#1a1a1a" stroke-width="0.08">−500</text>
<text x="19.11" y="338.6" font-size="10" textLength="32.77" lengthAdjust="spacingAndGlyphs" style="" fill="#1a1a1a" stroke="#1a1a1a" stroke-width="0.08">20000</text>
<text x="19.11" y="376.4" font-size="10" textLength="32.77" lengthAdjust="spacingAndGlyphs" style="" fill="#1a1a1a" stroke="#1a1a1a" stroke-width="0.08">15000</text>
<text x="19.11" y="414.2" font-size="10" textLength="32.77" lengthAdjust="spacingAndGlyphs" style="" fill="#1a1a1a" stroke="#1a1a1a" stroke-width="0.08">10000</text>
<text x="25.71" y="452" font-size="10" textLength="26.22" lengthAdjust="spacingAndGlyphs" style="" fill="#1a1a1a" stroke="#1a1a1a" stroke-width="0.08">5000</text>
<text x="45.27" y="489.8" font-size="10" textLength="6.56" lengthAdjust="spacingAndGlyphs" style="" fill="#1a1a1a" stroke="#1a1a1a" stroke-width="0.08">0</text>
<text x="187.62" y="368.4" font-size="10" textLength="19.83" lengthAdjust="spacingAndGlyphs" style="" fill="#1a1a1a" stroke="#1a1a1a" stroke-width="0.08">800</text>
<text x="187.62" y="398.7" font-size="10" textLength="19.83" lengthAdjust="spacingAndGlyphs" style="" fill="#1a1a1a" stroke="#1a1a1a" stroke-width="0.08">600</text>
<text x="187.62" y="429" font-size="10" textLength="19.83" lengthAdjust="spacingAndGlyphs" style="" fill="#1a1a1a" stroke="#1a1a1a" stroke-width="0.08">400</text>
<text x="187.62" y="459.3" font-size="10" textLength="19.83" lengthAdjust="spacingAndGlyphs" style="" fill="#1a1a1a" stroke="#1a1a1a" stroke-width="0.08">200</text>
<text x="200.82" y="489.6" font-size="10" textLength="6.61" lengthAdjust="spacingAndGlyphs" style="" fill="#1a1a1a" stroke="#1a1a1a" stroke-width="0.08">0</text>
<text x="363.96" y="375.5" font-size="10" textLength="32.72" lengthAdjust="spacingAndGlyphs" style="" fill="#1a1a1a" stroke="#1a1a1a" stroke-width="0.08">15000</text>
<text x="363.96" y="432.85" font-size="10" textLength="32.72" lengthAdjust="spacingAndGlyphs" style="" fill="#1a1a1a" stroke="#1a1a1a" stroke-width="0.08">10000</text>
<text x="370.55" y="490.2" font-size="10" textLength="26.18" lengthAdjust="spacingAndGlyphs" style="" fill="#1a1a1a" stroke="#1a1a1a" stroke-width="0.08">5000</text>
</svg></body></html>
